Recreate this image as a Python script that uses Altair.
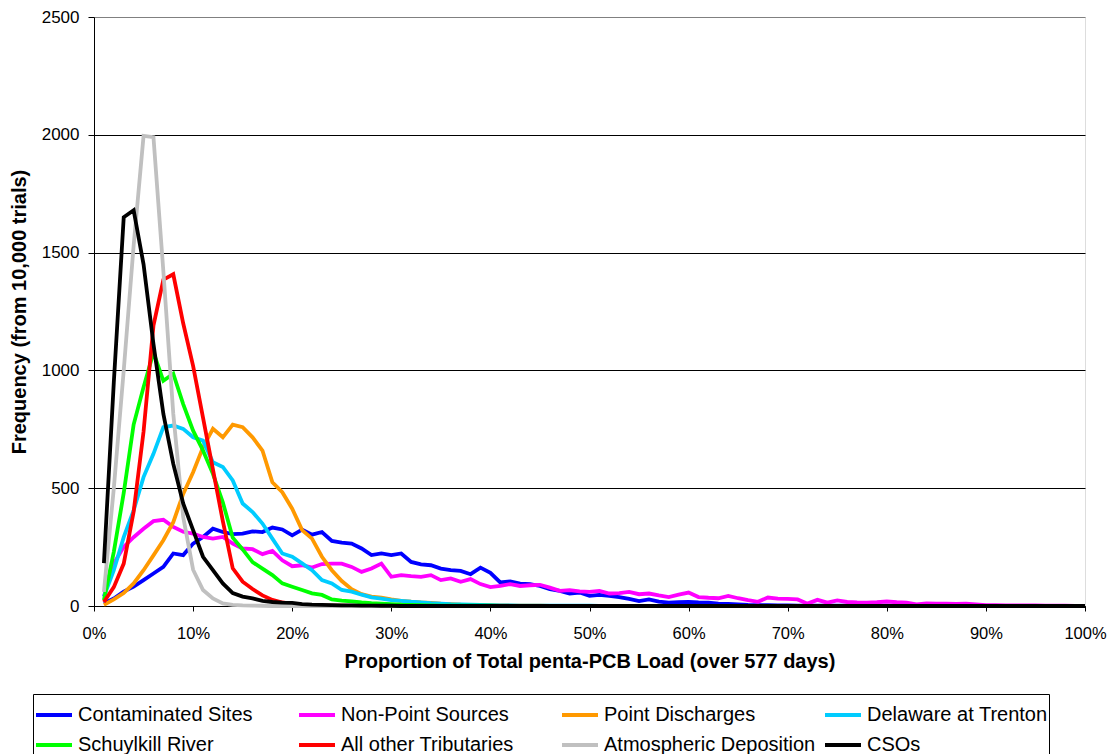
import altair as alt
import pandas as pd

names = ["Contaminated Sites", "Non-Point Sources", "Point Discharges", "Delaware at Trenton",
         "Schuylkill River", "All other Tributaries", "Atmospheric Deposition", "CSOs"]
colors = ["#0000FF", "#FF00FF", "#FF9900", "#00CCFF", "#00FF00", "#FF0000", "#C0C0C0", "#000000"]

pct = list(range(1, 101))

contaminated = [11, 32, 61, 82, 110, 138, 166, 223, 216, 265,
                293, 328, 314, 305, 307, 317, 314, 333, 325, 300,
                324, 303, 314, 276, 269, 265, 244, 216, 223, 216,
                223, 187, 177, 173, 159, 152, 149, 135, 163, 141,
                100, 104, 95, 93, 85, 71, 64, 53, 57, 43,
                47, 43, 38, 30, 21, 28, 19, 14, 16, 17,
                15, 14, 10, 9, 7, 5, 4, 4, 3, 3,
                2, 2, 2, 2, 1, 1, 1, 1, 1, 1,
                0, 0, 0, 0, 0, 0, 0, 0, 0, 0,
                0, 0, 0, 0, 0, 0, 0, 0, 0, 0]
nonpoint = [40, 180, 251, 292, 328, 360, 366, 336, 315, 307,
            293, 286, 293, 265, 244, 241, 220, 234, 194, 169,
            173, 163, 178, 180, 180, 166, 145, 159, 180, 124,
            131, 127, 124, 131, 110, 117, 103, 114, 93, 80,
            85, 93, 85, 88, 90, 78, 64, 67, 62, 60,
            64, 53, 55, 60, 50, 53, 45, 38, 48, 57,
            38, 35, 33, 43, 33, 25, 18, 36, 31, 30,
            28, 10, 26, 14, 24, 17, 15, 14, 16, 19,
            16, 14, 7, 11, 10, 10, 9, 10, 7, 4,
            4, 3, 3, 3, 3, 2, 1, 1, 0, 0]
point = [5, 28, 55, 96, 152, 215, 279, 356, 476, 568,
         674, 752, 716, 770, 759, 716, 660, 525, 483, 413,
         322, 286, 209, 152, 106, 71, 50, 40, 35, 28,
         22, 18, 15, 13, 10, 8, 6, 5, 4, 3,
         3, 2, 2, 1, 1, 0, 0, 0, 0, 0,
         0, 0, 0, 0, 0, 0, 0, 0, 0, 0,
         0, 0, 0, 0, 0, 0, 0, 0, 0, 0,
         0, 0, 0, 0, 0, 0, 0, 0, 0, 0,
         0, 0, 0, 0, 0, 0, 0, 0, 0, 0,
         0, 0, 0, 0, 0, 0, 0, 0, 0, 0]
delaware = [40, 152, 292, 406, 547, 646, 759, 766, 752, 716,
            702, 610, 590, 533, 435, 399, 350, 286, 223, 209,
            181, 152, 110, 96, 68, 61, 48, 37, 31, 25,
            22, 18, 15, 12, 10, 8, 7, 6, 5, 4,
            3, 3, 2, 2, 2, 1, 1, 1, 1, 1,
            0, 0, 0, 0, 0, 0, 0, 0, 0, 0,
            0, 0, 0, 0, 0, 0, 0, 0, 0, 0,
            0, 0, 0, 0, 0, 0, 0, 0, 0, 0,
            0, 0, 0, 0, 0, 0, 0, 0, 0, 0,
            0, 0, 0, 0, 0, 0, 0, 0, 0, 0]
schuylkill = [25, 230, 480, 770, 929, 1076, 956, 986, 857, 744,
              660, 561, 440, 290, 240, 186, 159, 131, 96, 82,
              68, 54, 47, 28, 23, 20, 15, 12, 10, 8,
              6, 5, 4, 3, 2, 1, 1, 1, 1, 1,
              0, 0, 0, 0, 0, 0, 0, 0, 0, 0,
              0, 0, 0, 0, 0, 0, 0, 0, 0, 0,
              0, 0, 0, 0, 0, 0, 0, 0, 0, 0,
              0, 0, 0, 0, 0, 0, 0, 0, 0, 0,
              0, 0, 0, 0, 0, 0, 0, 0, 0, 0,
              0, 0, 0, 0, 0, 0, 0, 0, 0, 0]
tributaries = [17, 80, 180, 400, 740, 1190, 1385, 1408, 1200, 1019,
               800, 580, 360, 160, 103, 72, 45, 26, 15, 9,
               5, 3, 2, 1, 1, 0, 0, 0, 0, 0,
               0, 0, 0, 0, 0, 0, 0, 0, 0, 0,
               0, 0, 0, 0, 0, 0, 0, 0, 0, 0,
               0, 0, 0, 0, 0, 0, 0, 0, 0, 0,
               0, 0, 0, 0, 0, 0, 0, 0, 0, 0,
               0, 0, 0, 0, 0, 0, 0, 0, 0, 0,
               0, 0, 0, 0, 0, 0, 0, 0, 0, 0,
               0, 0, 0, 0, 0, 0, 0, 0, 0, 0]
atmospheric = [60, 500, 1000, 1530, 1995, 1990, 1420, 816, 378, 154,
               68, 32, 11, 5, 3, 2, 1, 0, 0, 0,
               0, 0, 0, 0, 0, 0, 0, 0, 0, 0,
               0, 0, 0, 0, 0, 0, 0, 0, 0, 0,
               0, 0, 0, 0, 0, 0, 0, 0, 0, 0,
               0, 0, 0, 0, 0, 0, 0, 0, 0, 0,
               0, 0, 0, 0, 0, 0, 0, 0, 0, 0,
               0, 0, 0, 0, 0, 0, 0, 0, 0, 0,
               0, 0, 0, 0, 0, 0, 0, 0, 0, 0,
               0, 0, 0, 0, 0, 0, 0, 0, 0, 0]
csos = [182, 950, 1650, 1680, 1450, 1112, 815, 603, 435, 322,
        209, 152, 96, 55, 40, 32, 22, 17, 14, 13,
        8, 6, 5, 4, 3, 3, 2, 2, 1, 1,
        0, 0, 0, 0, 0, 0, 0, 0, 0, 0,
        0, 0, 0, 0, 0, 0, 0, 0, 0, 0,
        0, 0, 0, 0, 0, 0, 0, 0, 0, 0,
        0, 0, 0, 0, 0, 0, 0, 0, 0, 0,
        0, 0, 0, 0, 0, 0, 0, 0, 0, 0,
        0, 0, 0, 0, 0, 0, 0, 0, 0, 0,
        0, 0, 0, 0, 0, 0, 0, 0, 0, 0]

series = [contaminated, nonpoint, point, delaware, schuylkill, tributaries, atmospheric, csos]

rows = []
for name, vals in zip(names, series):
    for p, v in zip(pct, vals):
        rows.append({"series": name, "pct": p, "freq": v})
df = pd.DataFrame(rows)

FONT = "Liberation Sans"

x_enc = alt.X("pct:Q",
              scale=alt.Scale(domain=[0, 100], nice=False, zero=True),
              axis=alt.Axis(values=list(range(0, 101, 10)),
                            labelExpr="datum.value + '%'",
                            labelFlush=False, labelOverlap=False,
                            title="Proportion of Total penta-PCB Load (over 577 days)",
                            grid=False, tickSize=5, tickColor="black",
                            domainColor="black", labelColor="black",
                            labelFont=FONT, labelFontSize=16.5, labelPadding=14,
                            titleFont=FONT, titleFontSize=20, titleFontWeight="bold",
                            titleColor="black", titlePadding=10))
y_enc = alt.Y("freq:Q",
              scale=alt.Scale(domain=[0, 2500], nice=False),
              axis=alt.Axis(values=[0, 500, 1000, 1500, 2000, 2500],
                            format="d", labelFlush=False,
                            title="Frequency (from 10,000 trials)",
                            grid=True,
                            gridColor={"condition": {"test": "datum.value >= 2500", "value": "#808080"},
                                       "value": "black"},
                            gridWidth=1, gridOpacity=1,
                            tickSize=6, tickColor="black", domainColor="black",
                            labelColor="black", labelFont=FONT, labelFontSize=17,
                            labelPadding=9, titleFont=FONT, titleFontSize=20,
                            titleFontWeight="bold", titleColor="black", titlePadding=12))
color_enc = alt.Color("series:N",
                      scale=alt.Scale(domain=names, range=colors),
                      legend=alt.Legend(title=None, orient="none", legendX=-61, legendY=677,
                                        direction="horizontal",
                                        columns=4, gridAlign="all", columnPadding=1,
                                        rowPadding=-7, padding=1, strokeColor="black",
                                        symbolType="stroke", symbolStrokeWidth=4,
                                        symbolSize=1296, labelOffset=4, labelLimit=400,
                                        labelFont=FONT, labelFontSize=20, labelColor="black"))

layers = []
for name in names:
    layers.append(
        alt.Chart(df)
        .transform_filter(alt.datum.series == name)
        .mark_line(strokeWidth=3.8)
        .encode(x=x_enc, y=y_enc, color=color_enc)
    )

chart = (
    alt.layer(*layers)
    .properties(width=991, height=589,
                autosize=alt.AutoSizeParams(type="none"),
                padding={"left": 86, "top": 9, "right": 22, "bottom": 148})
    .configure_view(stroke="#808080", strokeWidth=1)
    .configure(background="white")
)

chart.save("out.html", embed_options={"renderer": "svg", "actions": False})
